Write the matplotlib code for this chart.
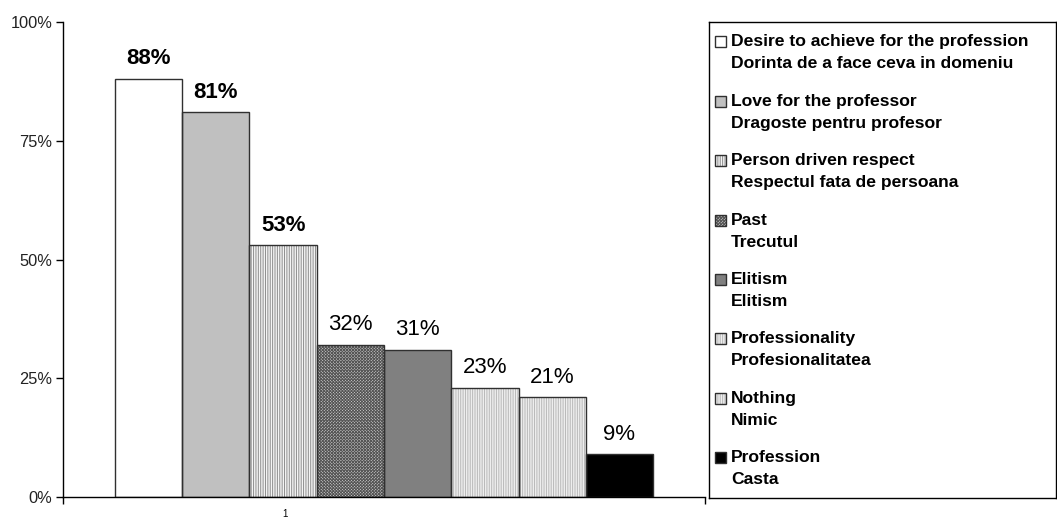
import matplotlib
matplotlib.use("Agg")
import matplotlib.pyplot as plt
from matplotlib.patches import Rectangle

plt.rcParams["font.family"] = ["Liberation Sans", "DejaVu Sans"]
plt.rcParams["hatch.linewidth"] = 0.7

# date
labels_en = ["Desire to achieve for the profession", "Love for the professor",
             "Person driven respect", "Past", "Elitism", "Professionality",
             "Nothing", "Profession"]
labels_ro = ["Dorinta de a face ceva in domeniu", "Dragoste pentru profesor",
             "Respectul fata de persoana", "Trecutul", "Elitism",
             "Profesionalitatea", "Nimic", "Casta"]
values = [88, 81, 53, 32, 31, 23, 21, 9]
bold_top = [True, True, True, False, False, False, False, False]
yticks = [0, 25, 50, 75, 100]
category = "1"

# stiluri (culori / modele Excel)
faces = ["#ffffff", "#c0c0c0", "#f4f4f4", "#c8c8c8", "#808080", "#eeeeee", "#eeeeee", "#000000"]
hatch_cols = ["#ffffff", "#c0c0c0", "#8c8c8c", "#555555", "#808080", "#b8b8b8", "#b8b8b8", "#000000"]
hatches = [None, None, "|" * 7, "x" * 11, None, "|" * 7, "|" * 7, None]
edge = "#303030"

W, H = 1057, 518
fig = plt.figure(figsize=(W / 100, H / 100), dpi=100)
ax = fig.add_axes([63 / W, (H - 497) / H, (705 - 63) / W, (497 - 22) / H])

xs = list(range(len(values)))
for i, v in enumerate(values):
    ax.bar(xs[i], v / 100, width=1, color=faces[i], edgecolor=hatch_cols[i],
           hatch=hatches[i], linewidth=0)
ax.bar(xs, [v / 100 for v in values], width=1, fill=False, edgecolor=edge, linewidth=1)

for i, v in enumerate(values):
    ax.annotate(f"{v}%", (xs[i], v / 100), xytext=(0, 14.5), textcoords="offset points",
                ha="center", va="center", fontsize=16,
                fontweight="bold" if bold_top[i] else "normal")

pad = 0.773
ax.set_xlim(-0.5 - pad, len(values) - 0.5 + pad)
ax.set_ylim(0, 1)
ax.set_yticks([t / 100 for t in yticks])
ax.set_yticklabels([f"{t}%" for t in yticks])
ax.set_xticks(ax.get_xlim())
ax.set_xticklabels(["", ""])
ax.tick_params(axis="y", length=5, width=1, labelsize=11.8, pad=2.5, color="black",
               labelcolor="#222222")
ax.tick_params(axis="x", length=5, width=1)
ax.text(2.03, -0.035, category, ha="center", va="center", fontsize=7)
for s in ["top", "right"]:
    ax.spines[s].set_visible(False)
for s in ["left", "bottom"]:
    ax.spines[s].set_linewidth(1)

# legenda desenata manual (patrat la prima linie)
lax = fig.add_axes([709 / W, (H - 498) / H, (1056 - 709) / W, (498 - 22) / H])
lax.set_xlim(0, 347)
lax.set_ylim(476, 0)
lax.set_xticks([])
lax.set_yticks([])
for s in lax.spines.values():
    s.set_linewidth(1)
step = 59.4
for i in range(len(values)):
    yc = 20 + i * step
    lax.add_patch(Rectangle((6, yc - 5.5), 11, 11, facecolor=faces[i],
                            edgecolor=hatch_cols[i], hatch=hatches[i], linewidth=0))
    lax.add_patch(Rectangle((6, yc - 5.5), 11, 11, fill=False, edgecolor=edge, linewidth=1))
    lax.text(22, yc, labels_en[i], ha="left", va="center", fontsize=12.6, fontweight="bold")
    lax.text(22, yc + 22, labels_ro[i], ha="left", va="center", fontsize=12.6, fontweight="bold")

fig.savefig("out.png", dpi=100)
